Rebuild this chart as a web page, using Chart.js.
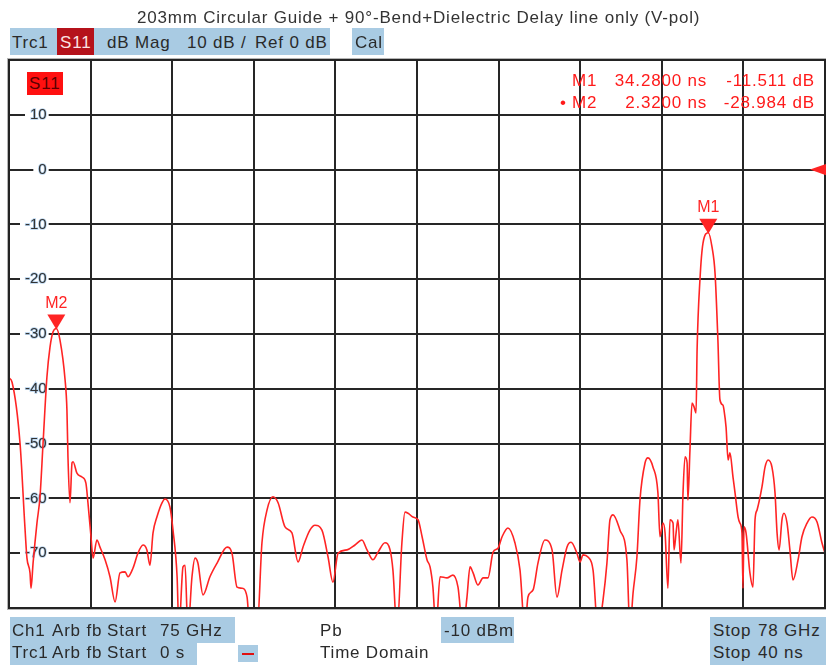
<!DOCTYPE html>
<html>
<head>
<meta charset="utf-8">
<script src="https://cdn.jsdelivr.net/npm/chart.js@4.4.1/dist/chart.umd.min.js"></script>
<style>
body{margin:0;background:#fff;font-family:"Liberation Sans",Arial,sans-serif;color:#2a2a2a}
#page{position:relative;width:826px;height:665px;overflow:hidden}
#plot{position:absolute;left:0;top:0}
.t{position:absolute;white-space:pre;font-size:17px;letter-spacing:0.8px;line-height:20px;transform:translateY(-50%)}
.bx{position:absolute;background:#a9cbe3}
.red{color:#ff1a1a}
.r{text-align:right}
</style>
</head>
<body>
<div id="page">
  <canvas id="plot" width="826" height="665"></canvas>

  <!-- header -->
  <div class="t" style="left:137px;top:18px;color:#333">203mm Circular Guide + 90°-Bend+Dielectric Delay line only (V-pol)</div>
  <div class="bx" style="left:10px;top:28px;width:320px;height:27px"></div>
  <div class="bx" style="left:57px;top:28px;width:37px;height:27px;background:#b5121b"></div>
  <div class="bx" style="left:352px;top:28px;width:32px;height:27px"></div>
  <div class="t" style="left:12px;top:43px">Trc1</div>
  <div class="t" style="left:60px;top:43px;color:#fbe3e3">S11</div>
  <div class="t" style="left:107px;top:43px">dB Mag</div>
  <div class="t" style="left:187px;top:43px">10 dB /</div>
  <div class="t" style="left:255px;top:43px">Ref 0 dB</div>
  <div class="t" style="left:355px;top:43px">Cal</div>

  <!-- trace badge and marker readout inside the diagram -->
  <div class="bx" style="left:27px;top:72px;width:36px;height:23px;background:#ff1010"></div>
  <div class="t" style="left:29px;top:84px;color:#5a0000">S11</div>
  <div id="mkinfo"></div>

  <!-- footer -->
  <div class="bx" style="left:10px;top:617px;width:225px;height:26px"></div>
  <div class="bx" style="left:10px;top:643px;width:187px;height:22px"></div>
  <div class="bx" style="left:441px;top:617px;width:73px;height:26px"></div>
  <div class="bx" style="left:710px;top:617px;width:116px;height:48px"></div>
  <div class="bx" style="left:238px;top:645px;width:20px;height:17px"></div>
  <div style="position:absolute;left:242px;top:653px;width:12px;height:2px;background:#e01010"></div>
  <div class="t" style="left:12px;top:631px">Ch1</div>
  <div class="t" style="left:52px;top:631px">Arb fb</div>
  <div class="t" style="left:107px;top:631px">Start</div>
  <div class="t" style="left:160px;top:631px">75 GHz</div>
  <div class="t" style="left:320px;top:631px">Pb</div>
  <div class="t" style="left:444px;top:631px">-10 dBm</div>
  <div class="t" style="left:713px;top:631px">Stop</div>
  <div class="t" style="left:758px;top:631px">78 GHz</div>
  <div class="t" style="left:12px;top:653px">Trc1</div>
  <div class="t" style="left:52px;top:653px">Arb fb</div>
  <div class="t" style="left:107px;top:653px">Start</div>
  <div class="t" style="left:160px;top:653px">0 s</div>
  <div class="t" style="left:320px;top:653px">Time Domain</div>
  <div class="t" style="left:713px;top:653px">Stop</div>
  <div class="t" style="left:758px;top:653px">40 ns</div>
</div>

<script>
// S11 time domain trace, 0..40 ns, dB
const TIMES_NS=[0.00,0.15,0.54,0.78,0.88,1.03,1.08,1.18,1.37,1.52,1.67,1.86,2.01,2.16,2.32,2.50,2.75,2.84,2.89,2.99,
  3.09,3.14,3.33,3.58,3.77,3.87,4.02,4.12,4.31,4.46,4.71,4.95,5.20,5.44,5.69,5.83,6.08,6.32,6.57,6.76,
  6.91,7.06,7.25,7.50,7.65,7.89,8.04,8.24,8.33,8.53,8.63,8.77,8.97,9.12,9.26,9.51,9.85,10.20,10.69,10.93,
  11.18,11.42,11.67,11.81,12.16,12.40,12.65,12.94,13.19,13.53,13.87,14.17,14.41,14.75,15.00,15.34,15.64,15.88,16.13,16.57,
  16.96,17.30,17.55,17.84,18.09,18.43,18.68,18.82,19.02,19.26,19.41,19.56,19.80,20.05,20.25,20.49,20.64,20.78,20.93,21.13,
  21.47,21.76,22.01,22.25,22.45,22.60,22.75,22.99,23.24,23.48,23.73,23.97,24.17,24.46,24.80,25.05,25.29,25.44,25.69,25.93,
  26.27,26.62,26.86,27.11,27.35,27.55,27.84,27.99,28.14,28.38,28.63,28.87,29.12,29.31,29.46,29.61,29.95,30.29,30.44,30.59,
  30.78,30.93,31.18,31.32,31.57,31.81,31.91,32.06,32.16,32.30,32.40,32.55,32.60,32.70,32.79,32.94,33.04,33.14,33.24,33.28,
  33.38,33.48,33.58,33.68,33.73,33.87,34.02,34.28,34.46,34.61,34.75,34.85,35.00,35.05,35.15,35.25,35.34,35.49,35.59,35.74,
  35.83,35.93,35.98,36.03,36.13,36.32,36.47,36.57,36.67,36.91,37.06,37.21,37.40,37.55,37.65,37.75,37.89,37.99,38.14,38.28,
  38.43,38.68,38.87,39.12,39.36,39.61,39.85,40.00];
const S11_DB=[-38.0,-38.8,-49.9,-65.2,-70.9,-73.6,-76.4,-71.8,-64.5,-59.7,-49.9,-37.8,-32.4,-29.6,-28.984,-31.1,-38.4,-43.9,-52.4,-60.8,
  -53.5,-53.3,-55.4,-56.1,-57.2,-60.8,-67.0,-70.9,-67.6,-68.9,-71.2,-74.3,-78.9,-73.6,-73.4,-74.3,-72.7,-70.0,-68.5,-69.4,
  -72.2,-66.3,-63.4,-60.8,-60.1,-61.6,-65.8,-74.3,-84,-72.5,-72.2,-84,-74.3,-70.9,-71.8,-77.6,-74.3,-71.8,-68.9,-70.0,
  -76.2,-76.4,-78.0,-84,-84,-68.1,-62.1,-59.7,-60.8,-65.2,-66.3,-71.6,-68.9,-65.8,-64.9,-65.8,-70.7,-75.3,-70.0,-69.4,
  -68.5,-67.6,-69.4,-71.2,-69.8,-68.1,-69.4,-73.1,-84,-68.1,-62.5,-62.7,-63.4,-63.9,-67.0,-71.2,-72.5,-76.2,-84,-74.3,
  -74.5,-74.0,-76.2,-84,-78.0,-72.5,-73.6,-75.8,-74.5,-74.5,-69.8,-69.1,-67.0,-65.4,-68.1,-73.1,-84,-78.0,-76.7,-71.8,
  -67.6,-69.4,-78.0,-73.1,-68.9,-68.0,-70.0,-71.6,-70.3,-70.7,-73.1,-84,-78.5,-71.8,-63.9,-63.0,-65.8,-71.2,-84,-77.3,
  -70.7,-60.3,-53.5,-52.6,-54.3,-59.0,-67.0,-64.5,-66.3,-76.4,-63.9,-64.5,-69.4,-66.3,-63.9,-71.8,-59.0,-52.4,-53.5,-60.3,
  -51.2,-42.6,-43.3,-44.4,-32.9,-20.1,-13.4,-11.511,-14.1,-18.9,-31.1,-42.0,-43.0,-43.9,-47.0,-53.0,-51.7,-56.1,-59.0,-63.4,
  -64.5,-66.3,-76.4,-65.2,-66.3,-73.6,-76.2,-63.9,-62.1,-57.9,-54.3,-53.0,-54.3,-59.0,-66.3,-69.4,-63.9,-62.7,-64.5,-69.4,
  -74.9,-71.2,-67.0,-64.5,-63.4,-64.3,-68.1,-70.0];

// markers
const MK_NAMES=['M1','M2'];
const MK_TIME=[34.28,2.32];
const MK_DB=[-11.511,-28.984];
const MK_ACTIVE=1;   // M2 is the active marker (bullet)

// screen: 10 dB/div, ref 0 dB at 8th division from bottom
const T_START=0, T_STOP=40, T_DIV=4;
const DB_TOP=20, DB_BOTTOM=-80, DB_DIV=10, REF_LEVEL=0;

const TRACE_COL='#ff2424';

// marker readout, top right
document.getElementById('mkinfo').innerHTML=MK_NAMES.map((n,i)=>{
  const top=81+i*22;
  const bullet=i===MK_ACTIVE?`<div class="t red" style="left:560px;top:${top}px">•</div>`:'';
  return bullet+
    `<div class="t red" style="left:572px;top:${top}px">${n}</div>`+
    `<div class="t red r" style="right:119px;top:${top}px">${MK_TIME[i].toFixed(4)} ns</div>`+
    `<div class="t red r" style="right:11px;top:${top}px">${MK_DB[i].toFixed(3)} dB</div>`;
}).join('');

const vnaDecor={
  id:'vnaDecor',
  afterDatasetsDraw(chart){
    const {ctx,chartArea:a,scales:{x,y}}=chart;
    ctx.save();
    // screen frame
    ctx.strokeStyle='#232323';ctx.lineWidth=2;
    ctx.strokeRect(a.left,a.top,a.width,a.height);
    ctx.strokeStyle='rgba(90,90,90,0.45)';ctx.lineWidth=1;
    ctx.strokeRect(a.left-1.5,a.top-1.5,a.width+3,a.height+3);
    // reference level arrow on the right edge
    const ry=y.getPixelForValue(REF_LEVEL);
    ctx.fillStyle=TRACE_COL;
    ctx.beginPath();ctx.moveTo(a.right-15,ry);ctx.lineTo(a.right+2,ry-6);ctx.lineTo(a.right+2,ry+6);ctx.closePath();ctx.fill();
    // marker triangles with names
    ctx.font='16px "Liberation Sans", Arial, sans-serif';
    ctx.textAlign='center';ctx.textBaseline='middle';
    MK_NAMES.forEach((n,i)=>{
      const px=x.getPixelForValue(MK_TIME[i]),py=y.getPixelForValue(MK_DB[i]);
      ctx.beginPath();ctx.moveTo(px,py+1);ctx.lineTo(px-9,py-14);ctx.lineTo(px+9,py-14);ctx.closePath();ctx.fill();
      ctx.fillText(n,px,py-25);
    });
    ctx.restore();
  }
};

new Chart(document.getElementById('plot'),{
  type:'line',
  data:{datasets:[{
    data:TIMES_NS.map((t,i)=>({x:t,y:S11_DB[i]})),
    borderColor:TRACE_COL,borderWidth:1.6,pointRadius:0,
    cubicInterpolationMode:'monotone',fill:false
  }]},
  options:{
    responsive:false,animation:false,
    layout:{padding:{left:9,top:60,right:1,bottom:57}},
    plugins:{legend:{display:false},tooltip:{enabled:false}},
    scales:{
      x:{type:'linear',min:T_START,max:T_STOP,
        ticks:{display:false,stepSize:T_DIV},
        grid:{color:'#262626',lineWidth:2,drawTicks:false},
        border:{display:false},
        afterFit:s=>{s.height=0}},
      y:{min:DB_BOTTOM,max:DB_TOP,
        ticks:{stepSize:DB_DIV,mirror:true,crossAlign:'far',padding:16,
          color:'#333',font:{family:'"Liberation Sans", Arial, sans-serif',size:15},
          textStrokeColor:'rgba(120,175,225,0.55)',textStrokeWidth:1.5,
          callback:v=>(v>=DB_TOP||v<=DB_BOTTOM)?'':v,
          showLabelBackdrop:c=>c.tick.value<DB_TOP&&c.tick.value>DB_BOTTOM,
          backdropColor:'#fff',backdropPadding:{left:5,right:2,top:0,bottom:0}},
        grid:{color:'#262626',lineWidth:2,drawTicks:false},
        border:{display:false},
        afterFit:s=>{s.width=0}}
    }
  },
  plugins:[vnaDecor]
});
</script>
</body>
</html>
